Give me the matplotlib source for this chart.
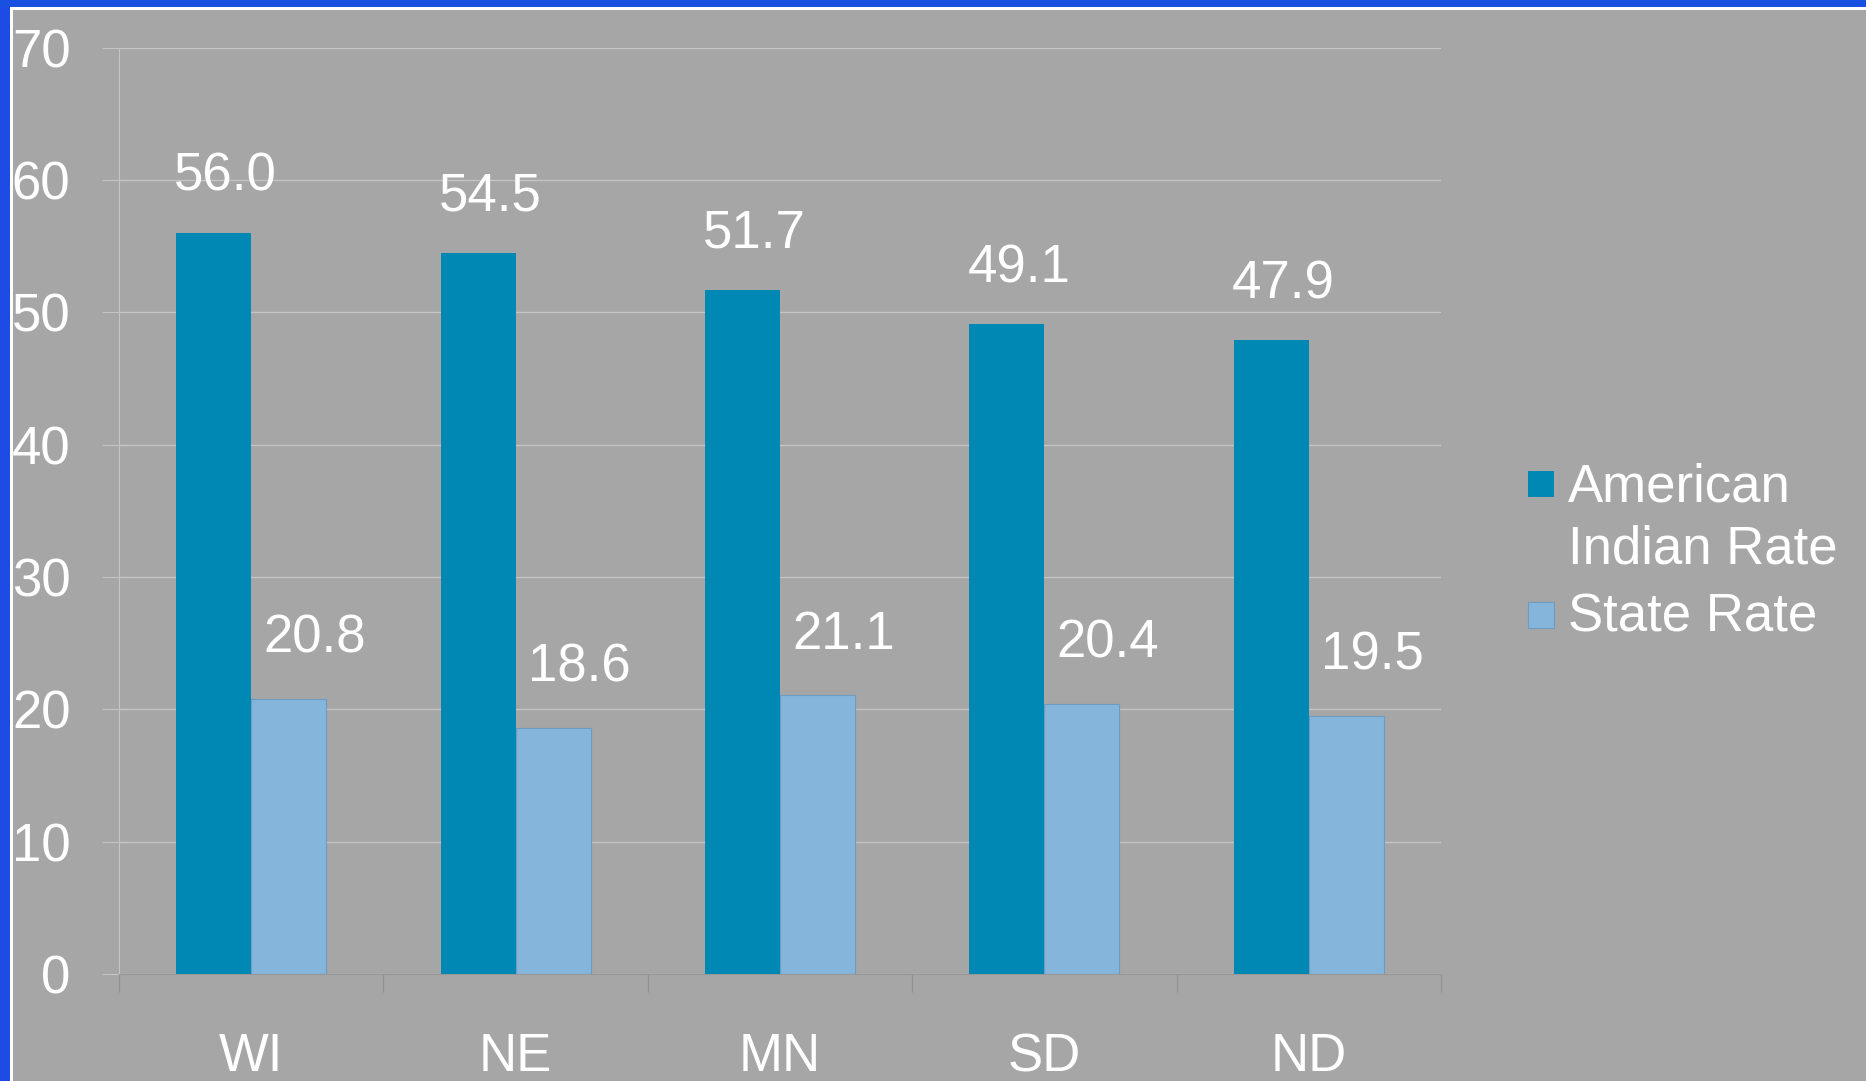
import matplotlib
matplotlib.use("Agg")
import matplotlib.pyplot as plt
import numpy as np
from matplotlib.patches import Rectangle

# data
states = ["WI", "NE", "MN", "SD", "ND"]
american_indian = [56.0, 54.5, 51.7, 49.1, 47.9]
state_rate = [20.8, 18.6, 21.1, 20.4, 19.5]
series_names = ["American\nIndian Rate", "State Rate"]
y_ticks = [0, 10, 20, 30, 40, 50, 60, 70]

dark = "#0088B4"
light = "#85B5DA"
bg = "#A6A6A6"
grid_c = "#C4C4C4"

plt.rcParams["font.family"] = ["Liberation Sans", "DejaVu Sans"]

W, H = 1866, 1081
fig = plt.figure(figsize=(W / 100, H / 100), dpi=100, facecolor=bg)

# slide frame: blue band top and left, thin white line inside
fig.add_artist(Rectangle((0, 0), 10 / W, 1, transform=fig.transFigure,
                         facecolor="#1E4BE6", edgecolor="none"))
fig.add_artist(Rectangle((0, 1 - 7 / H), 1, 7 / H, transform=fig.transFigure,
                         facecolor="#1A50E0", edgecolor="none"))
fig.add_artist(Rectangle((10 / W, 0), 2.5 / W, 1 - 7 / H, transform=fig.transFigure,
                         facecolor="white", edgecolor="none"))
fig.add_artist(Rectangle((10 / W, 1 - 9.5 / H), 1, 2.5 / H, transform=fig.transFigure,
                         facecolor="white", edgecolor="none"))

ax = fig.add_axes([119 / W, 1 - 974 / H, (1441 - 119) / W, (974 - 47.5) / H])
ax.set_facecolor(bg)

x = np.arange(len(states))
w = 0.284
b1 = ax.bar(x - w / 2, american_indian, w, color=dark, edgecolor="none", zorder=3)
b2 = ax.bar(x + w / 2, state_rate, w, color=light, edgecolor="#6C9CC2",
            linewidth=0.8, zorder=3)

for xi, v in zip(x, american_indian):
    ax.annotate(f"{v:.1f}", xy=(xi - w / 2, v), xytext=(12, 56),
                textcoords="offset pixels", ha="center", va="center",
                color="white", fontsize=38)
for xi, v in zip(x, state_rate):
    ax.annotate(f"{v:.1f}", xy=(xi + w / 2, v), xytext=(26, 60),
                textcoords="offset pixels", ha="center", va="center",
                color="white", fontsize=38)

ax.set_xlim(-0.5, len(states) - 0.5)
ax.set_ylim(0, 70)
ax.set_yticks(y_ticks)
ax.set_yticklabels([str(t) for t in y_ticks])
ax.yaxis.grid(True, color=grid_c, linewidth=1, zorder=0)
ax.set_axisbelow(True)
ax.tick_params(axis="y", length=12, color=grid_c, pad=23,
               labelcolor="white", labelsize=38)

ax.set_xticks(x)
ax.set_xticklabels(states)
ax.set_xticks(np.arange(len(states) + 1) - 0.5, minor=True)
ax.tick_params(axis="x", which="major", length=0, pad=42,
               labelcolor="white", labelsize=38)
ax.tick_params(axis="x", which="minor", length=13, color="#939393", width=1)

for s in ["top", "right"]:
    ax.spines[s].set_visible(False)
ax.spines["left"].set_color(grid_c)
ax.spines["bottom"].set_color("#969696")

# legend drawn by hand so the swatch lines up with the first text line
leg_y = [1 - 484 / H, 1 - 615 / H]
for name, c, ec, yy in zip(series_names, [dark, light], ["none", "#6C9CC2"], leg_y):
    fig.add_artist(Rectangle((1528 / W, yy - 13 / H), 26 / W, 26 / H,
                             transform=fig.transFigure, facecolor=c,
                             edgecolor=ec, linewidth=0.8))
    fig.text(1568 / W, yy + 22 / H, name, color="white", fontsize=38,
             ha="left", va="top", linespacing=1.32)

fig.savefig("out.png", dpi=100, facecolor=bg)
